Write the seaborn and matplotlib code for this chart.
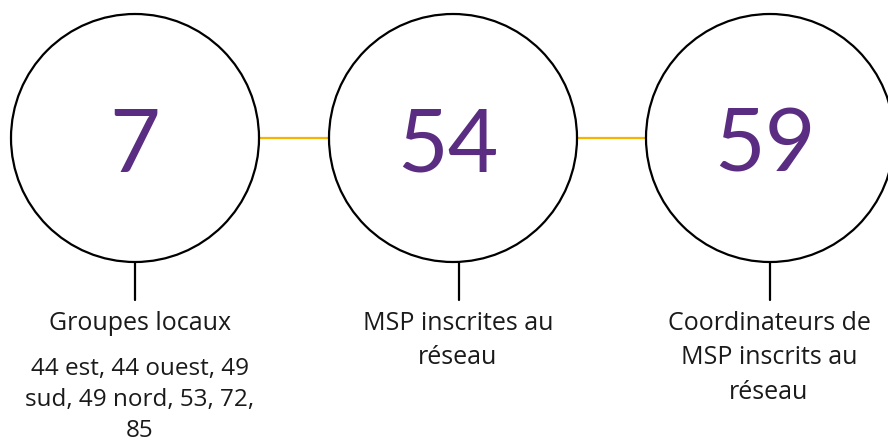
import matplotlib
matplotlib.use("Agg")
import matplotlib.pyplot as plt
from matplotlib.patches import Circle
import seaborn as sns
import pandas as pd

values = [7, 54, 59]
labels = [
    "Groupes locaux",
    "MSP inscrites au\nréseau",
    "Coordinateurs de\nMSP inscrits au\nréseau",
]
sublabels = ["44 est, 44 ouest, 49\nsud, 49 nord, 53, 72,\n85", "", ""]

sns.set_theme(style="white")
plt.rcParams["font.family"] = ["Lato", "DejaVu Sans"]

W, H = 888, 448
fig = plt.figure(figsize=(W / 100, H / 100), dpi=100)
ax = fig.add_axes([0, 0, 1, 1])
ax.set_xlim(0, W)
ax.set_ylim(H, 0)
ax.set_aspect("equal")
ax.axis("off")

centers_x = [135, 453, 770]
cy, r = 138, 124
stem_x = [135, 459, 770]
purple = "#5B2D82"
orange = "#F5B400"
txt = "#1a1a1a"
lab_font = ["Open Sans", "DejaVu Sans"]

# connectors
conn = pd.DataFrame({
    "x": [centers_x[0] + r, centers_x[1] - r, centers_x[1] + r, centers_x[2] - r],
    "y": [cy] * 4,
    "seg": [0, 0, 1, 1],
})
for s, d in conn.groupby("seg"):
    sns.lineplot(data=d, x="x", y="y", color=orange, linewidth=1.6, ax=ax, legend=False)

for i, v in enumerate(values):
    ax.add_patch(Circle((centers_x[i], cy), r, fill=True, facecolor="white",
                        edgecolor="black", linewidth=1.6, zorder=3))
    ax.plot([stem_x[i], stem_x[i]], [cy + r, 300], color="black", linewidth=1.6, zorder=2)
    ax.text(centers_x[i] - (0 if i == 0 else 5), 140, str(v), ha="center", va="center_baseline",
            fontsize=63, color=purple, fontweight="normal", zorder=4)
    ax.text(stem_x[i] + (5 if i == 0 else -1), 311, labels[i], ha="center", va="top",
            fontsize=18, color=txt, family=lab_font, linespacing=1.5)
    if sublabels[i]:
        ax.text(140, 357, sublabels[i], ha="center", va="top",
                fontsize=17.5, color=txt, family=lab_font, linespacing=1.4)

fig.savefig("out.png", dpi=100, facecolor="white")
